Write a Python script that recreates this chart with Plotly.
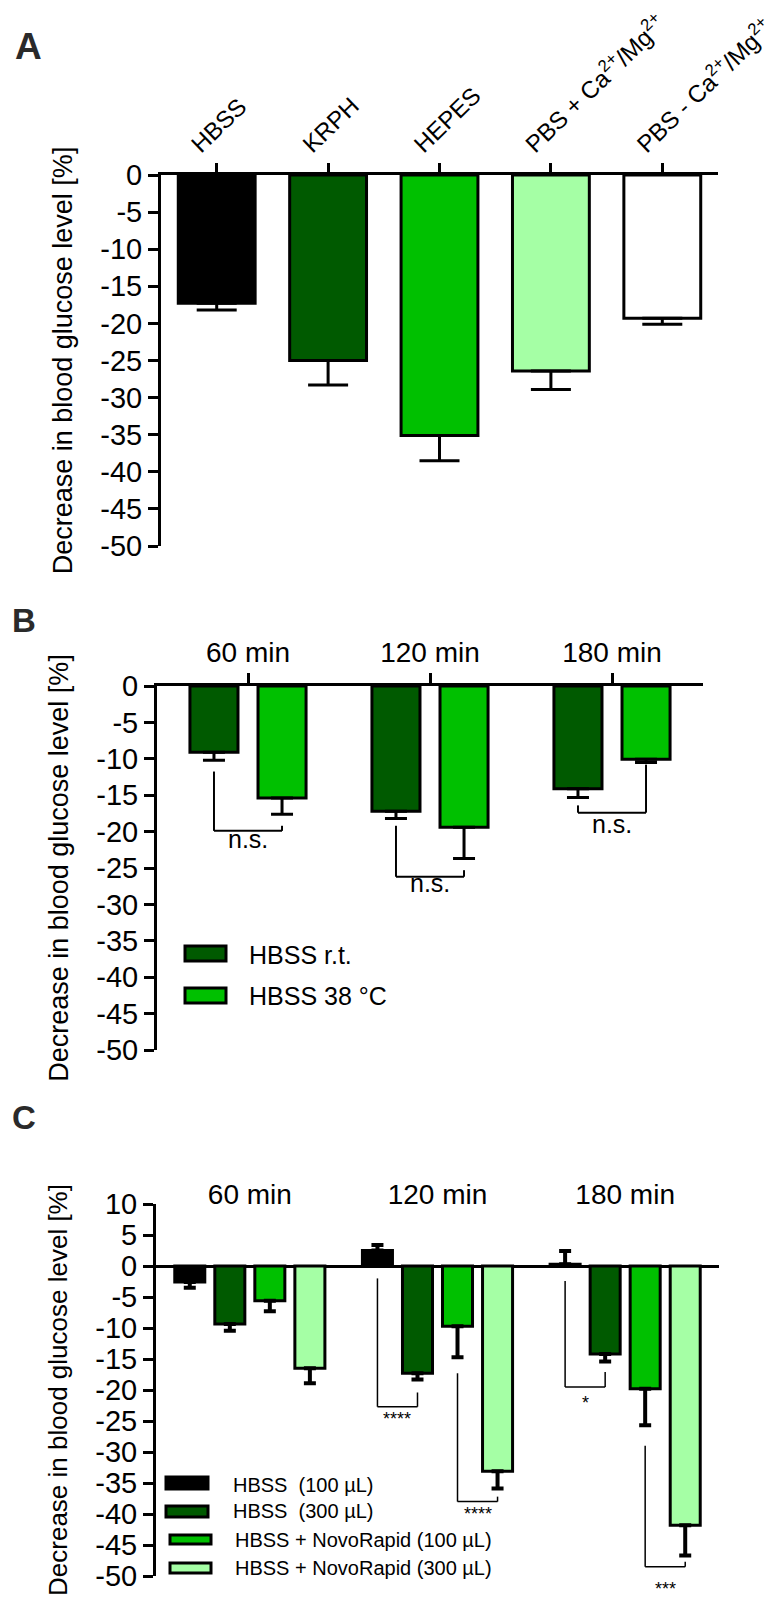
import plotly.graph_objects as go

# ---------------- data ----------------
A_categories = ["HBSS", "KRPH", "HEPES",
                "PBS + Ca<sup>2+</sup>/Mg<sup>2+</sup>",
                "PBS - Ca<sup>2+</sup>/Mg<sup>2+</sup>"]
A_values = [-17.3, -25.0, -35.1, -26.4, -19.3]
A_errors = [0.9, 3.3, 3.4, 2.5, 0.8]
A_colors = ["#000000", "#005a00", "#00c000", "#a5ffa5", "#ffffff"]

B_groups = ["60 min", "120 min", "180 min"]
B_names = ["HBSS r.t.", "HBSS 38 °C"]
B_rt = [-9.1, -17.2, -14.1]
B_rt_err = [1.1, 1.0, 1.2]
B_38 = [-15.4, -19.4, -10.05]
B_38_err = [2.2, 4.3, 0.45]
B_colors = ["#005a00", "#00c000"]

C_groups = ["60 min", "120 min", "180 min"]
C_names = ["HBSS\u00a0\u00a0(100 µL)", "HBSS\u00a0\u00a0(300 µL)",
           "HBSS + NovoRapid (100 µL)", "HBSS + NovoRapid (300 µL)"]
C_hbss100 = [-2.6, 2.5, 0.3]
C_hbss100_err = [0.9, 0.9, 2.1]
C_hbss300 = [-9.35, -17.3, -14.2]
C_hbss300_err = [1.1, 1.0, 1.2]
C_nr100 = [-5.6, -9.7, -19.8]
C_nr100_err = [1.7, 5.0, 5.9]
C_nr300 = [-16.5, -33.1, -41.8]
C_nr300_err = [2.4, 2.8, 4.9]
C_colors = ["#000000", "#005a00", "#00c000", "#a5ffa5"]

y_ticks_AB = [0, -5, -10, -15, -20, -25, -30, -35, -40, -45, -50]
y_ticks_C = [10, 5] + y_ticks_AB
y_ticktext_AB = ["0", "-5", "-10", "-15", "-20", "-25", "-30", "-35", "-40", "-45", "-50"]
y_ticktext_C = ["10", "5"] + y_ticktext_AB
y_title = "Decrease in blood glucose level [%]"

# significance brackets: (group, left bar, right bar, left top, right top, bottom, label, label y)
B_brackets = [
    (0, 0, 1, -11.75, -19.2, -19.9, "n.s.", -21.0),
    (1, 0, 1, -19.2, -25.3, -26.2, "n.s.", -27.0),
    (2, 0, 1, -16.4, -10.8, -17.4, "n.s.", -18.9),
]
C_brackets = [
    (1, 0, 1, -2.0, -20.4, -22.7, "****", -24.6),
    (1, 2, 3, -17.3, -37.2, -38.0, "****", -40.0),
    (2, 0, 1, -2.4, -17.1, -19.5, "*", -22.1),
    (2, 2, 3, -29.0, -47.7, -48.5, "***", -52.1),
]

# ---------------- layout helpers ----------------
W, H = 778, 1600
FONT = "Liberation Sans, Arial, sans-serif"


def fx(p):
    return p / W


def fy(p):
    return 1 - p / H


def err_arrays(vals, errs):
    up = [e if v > 0 else 0 for v, e in zip(vals, errs)]
    down = [e if v <= 0 else 0 for v, e in zip(vals, errs)]
    return up, down


fig = go.Figure()

# ---------------- panel A ----------------
up, down = err_arrays(A_values, A_errors)
fig.add_trace(go.Bar(
    x=list(range(len(A_categories))), y=A_values, width=0.69,
    marker=dict(color=A_colors, line=dict(color="black", width=3)),
    error_y=dict(type="data", symmetric=False, array=up, arrayminus=down,
                 color="black", thickness=3, width=20),
    xaxis="x", yaxis="y", showlegend=False))

# ---------------- panel B ----------------
B_w = 0.264
B_centers = [-0.187, 0.187]
for k, (vals, errs) in enumerate([(B_rt, B_rt_err), (B_38, B_38_err)]):
    up, down = err_arrays(vals, errs)
    fig.add_trace(go.Bar(
        x=list(range(len(B_groups))), y=vals, width=B_w,
        offset=B_centers[k] - B_w / 2, name=B_names[k],
        marker=dict(color=B_colors[k], line=dict(color="black", width=3)),
        error_y=dict(type="data", symmetric=False, array=up, arrayminus=down,
                     color="black", thickness=3, width=11),
        xaxis="x2", yaxis="y2", showlegend=False))

# ---------------- panel C ----------------
C_w = 0.16
C_centers = [-0.32, -0.1066, 0.1066, 0.32]
C_series = [(C_hbss100, C_hbss100_err), (C_hbss300, C_hbss300_err),
            (C_nr100, C_nr100_err), (C_nr300, C_nr300_err)]
for k, (vals, errs) in enumerate(C_series):
    up, down = err_arrays(vals, errs)
    fig.add_trace(go.Bar(
        x=list(range(len(C_groups))), y=vals, width=C_w,
        offset=C_centers[k] - C_w / 2, name=C_names[k],
        marker=dict(color=C_colors[k], line=dict(color="black", width=3)),
        error_y=dict(type="data", symmetric=False, array=up, arrayminus=down,
                     color="black", thickness=4, width=6),
        xaxis="x3", yaxis="y3", showlegend=False))

shapes = []
annotations = []


def add_brackets(brackets, centers, xr, yr, yrange, lw, fsize):
    lo, hi = yrange
    for g, i, j, yt1, yt2, yb, label, ly in brackets:
        x1 = g + centers[i]
        x2 = g + centers[j]
        for (a0, b0, a1, b1) in [(x1, yt1, x1, yb), (x1, yb, x2, yb), (x2, yb, x2, yt2)]:
            shapes.append(dict(type="line", xref=xr, yref=yr, x0=a0, y0=b0, x1=a1, y1=b1,
                               line=dict(color="black", width=lw)))
        # label placed in axis-domain units so it may sit below the axis range
        annotations.append(dict(xref=xr, yref=yr + " domain", x=(x1 + x2) / 2,
                                y=(ly - lo) / (hi - lo), text=label,
                                showarrow=False, xanchor="center", yanchor="middle",
                                font=dict(family=FONT, size=fsize, color="black")))


add_brackets(B_brackets, B_centers, "x2", "y2", (-50, 0), 2, 25)
add_brackets(C_brackets, C_centers, "x3", "y3", (-50, 10), 1.5, 18)

# manual legends (panel B)
B_leg_boxes = [(177, 938, 218, 953), (177, 980, 218, 995)]
B_leg_text_y = [947, 988]
for k in range(2):
    x0, y0, x1, y1 = B_leg_boxes[k]
    shapes.append(dict(type="rect", xref="paper", yref="paper", x0=fx(x0), x1=fx(x1),
                       y0=fy(y1), y1=fy(y0), fillcolor=B_colors[k],
                       line=dict(color="black", width=3)))
    annotations.append(dict(xref="paper", yref="paper", x=fx(239), y=fy(B_leg_text_y[k]),
                            text=B_names[k], showarrow=False, xanchor="left", yanchor="middle",
                            font=dict(family=FONT, size=25, color="black")))

# manual legends (panel C)
C_leg_boxes = [(158, 1469, 200, 1481), (158, 1498, 200, 1509),
               (162, 1527, 203, 1536), (162, 1555, 203, 1565)]
C_leg_text = [(223, 1477), (223, 1503), (225, 1532), (225, 1560)]
for k in range(4):
    x0, y0, x1, y1 = C_leg_boxes[k]
    shapes.append(dict(type="rect", xref="paper", yref="paper", x0=fx(x0), x1=fx(x1),
                       y0=fy(y1), y1=fy(y0), fillcolor=C_colors[k],
                       line=dict(color="black", width=3)))
    tx, ty = C_leg_text[k]
    annotations.append(dict(xref="paper", yref="paper", x=fx(tx), y=fy(ty),
                            text=C_names[k], showarrow=False, xanchor="left", yanchor="middle",
                            font=dict(family=FONT, size=20, color="black")))

# panel letters
for letter, x, y, s in [("A", 20, 38, 37), ("B", 16, 613, 33), ("C", 16, 1109, 33)]:
    annotations.append(dict(xref="paper", yref="paper", x=fx(x), y=fy(y), text="<b>%s</b>" % letter,
                            showarrow=False, xanchor="center", yanchor="middle",
                            font=dict(family=FONT, size=s, color="#2a2a2a")))

tickfont = dict(family=FONT, size=29, color="black")


def yaxis(dom, anchor, rng, tv, tt, tsize=27, standoff=20):
    return dict(domain=dom, anchor=anchor, range=rng, tickvals=tv, ticktext=tt,
                ticks="outside", ticklen=10, tickwidth=3, tickcolor="black",
                showline=True, linewidth=3, linecolor="black", showgrid=False,
                zeroline=False, tickfont=tickfont, automargin=False,
                title=dict(text=y_title, font=dict(family=FONT, size=tsize, color="black"),
                           standoff=standoff))


fig.update_layout(
    width=W, height=H, margin=dict(l=0, r=0, t=0, b=0),
    paper_bgcolor="white", plot_bgcolor="white", barmode="overlay",
    font=dict(family=FONT, color="black"),
    xaxis=dict(domain=[fx(153), fx(710)], anchor="y", side="top", range=[-0.5, 4.5],
               tickvals=list(range(len(A_categories))), ticktext=A_categories,
               tickangle=-44, ticks="outside", ticklen=9, tickwidth=3, tickcolor="black",
               showline=True, linewidth=3, linecolor="black", showgrid=False,
               zeroline=False, tickfont=dict(family=FONT, size=24, color="black"),
               automargin=False, ticklabeloverflow="allow",
               ticklabelshift=-24, ticklabelstandoff=-4),
    yaxis=yaxis([fy(538), fy(167)], "x", [-50, 0], y_ticks_AB, y_ticktext_AB),
    xaxis2=dict(domain=[fx(149), fx(695)], anchor="y2", side="top", range=[-0.5, 2.5],
                tickvals=list(range(len(B_groups))), ticktext=B_groups,
                ticks="outside", ticklen=10, tickwidth=3, tickcolor="black",
                showline=True, linewidth=3, linecolor="black", showgrid=False,
                zeroline=False, tickfont=dict(family=FONT, size=28, color="black"),
                automargin=False),
    yaxis2=yaxis([fy(1042), fy(678)], "x2", [-50, 0], y_ticks_AB, y_ticktext_AB),
    xaxis3=dict(domain=[fx(148), fx(711)], anchor="free", position=fy(1202), side="top",
                range=[-0.5, 2.5], tickvals=list(range(len(C_groups))), ticktext=C_groups,
                ticks="", showline=False, showgrid=False, zeroline=False,
                tickfont=dict(family=FONT, size=28, color="black"), automargin=False),
    yaxis3=dict(yaxis([fy(1568), fy(1196)], "x3", [-50, 10], y_ticks_C, y_ticktext_C,
                      tsize=26, standoff=21),
                zeroline=True, zerolinecolor="black", zerolinewidth=3),
    shapes=shapes, annotations=annotations,
)

fig.write_html("out.html")
